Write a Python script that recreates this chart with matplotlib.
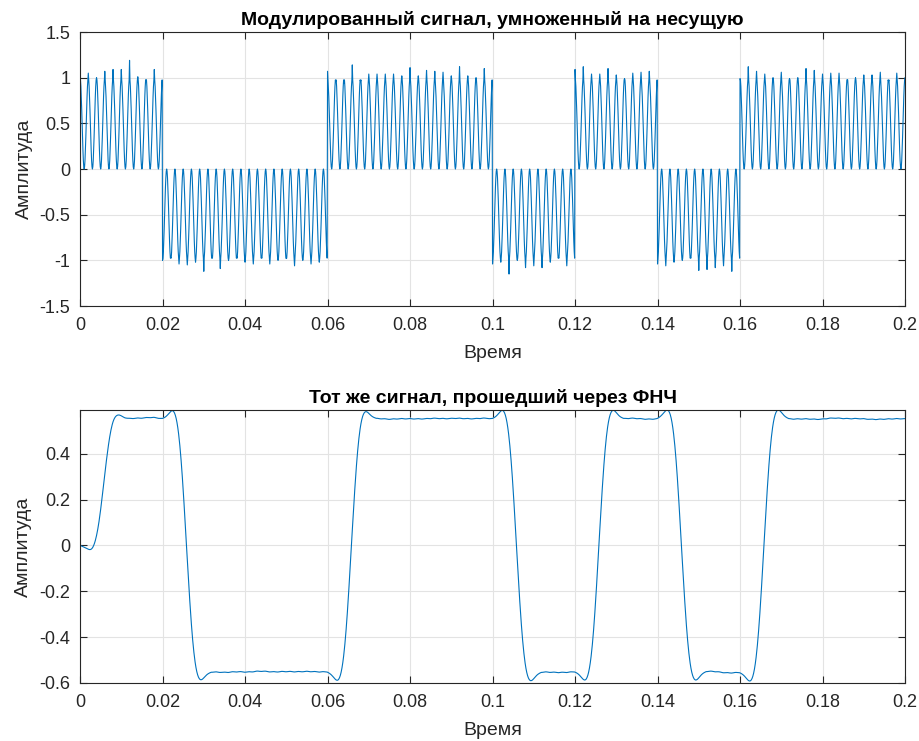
import numpy as np
import matplotlib
matplotlib.use("Agg")
import matplotlib.pyplot as plt
from matplotlib.ticker import FuncFormatter, MultipleLocator

# --- signal parameters -------------------------------------------------------
fs = 10000.0            # sampling rate, Hz
t_end = 0.2             # duration, s
bit_duration = 0.02     # s
carrier_freq = 250.0    # Hz
bits = [1, -1, -1, 1, 1, -1, 1, -1, 1, 1]

# measured peak magnitude of every carrier half-period (one per 2 ms, k = 0..100)
peak_mag = [
    1.09, 1.05, 1.00, 1.07, 1.09, 1.09, 1.19, 1.01, 0.98, 1.09,
    1.00, 0.97, 1.04, 1.05, 1.02, 1.12, 0.95, 1.09, 1.00, 0.96,
    1.02, 1.04, 0.97, 1.04, 1.00, 0.98, 1.06, 1.00, 1.04, 1.02,
    1.07, 0.96, 0.94, 1.14, 0.96, 1.04, 1.04, 1.04, 1.04, 1.02,
    1.11, 1.02, 1.08, 1.07, 1.06, 1.02, 1.12, 1.02, 1.00, 1.10,
    1.04, 1.02, 1.15, 1.00, 1.08, 1.06, 1.08, 1.02, 0.97, 1.06,
    1.09, 1.12, 1.04, 1.04, 1.10, 1.03, 0.99, 1.05, 1.06, 1.07,
    1.04, 1.06, 1.02, 1.00, 0.97, 1.11, 1.10, 1.08, 1.06, 1.12,
    0.99, 1.12, 1.07, 1.04, 1.00, 1.06, 0.99, 1.00, 1.10, 1.08,
    1.04, 1.05, 1.05, 0.98, 1.00, 1.03, 1.03, 1.06, 0.96, 1.05,
    1.00,
]

# low-pass filter parameters
lpf_cutoff = 150.0      # Hz
lpf_taps = 119
lpf_kaiser_beta = 3.8
lpf_gain = 1.1

# --- build the demodulated (carrier-multiplied) signal ------------------------
n = int(round(t_end * fs)) + 1
t = np.arange(n) / fs
bit_idx = np.clip((np.arange(n) // int(round(bit_duration * fs))), 0, len(bits) - 1)
b = np.asarray(bits, dtype=float)[bit_idx]
carrier = np.cos(2 * np.pi * carrier_freq * t)
mixed = b * carrier ** 2

samples_per_peak = int(round(fs / (2 * carrier_freq)))
for k, m in enumerate(peak_mag):
    i = k * samples_per_peak
    if i < n:
        mixed[i] = b[i] * m

# --- low-pass filtering (windowed-sinc FIR, zero initial state) ---------------
m_idx = np.arange(lpf_taps) - (lpf_taps - 1) / 2
h = np.sinc(2 * lpf_cutoff / fs * m_idx) * np.kaiser(lpf_taps, lpf_kaiser_beta)
h = h / h.sum() * lpf_gain
filtered = np.convolve(mixed, h)[:n]

# --- plotting -----------------------------------------------------------------
plt.rcParams["font.family"] = ["Liberation Sans", "DejaVu Sans"]
plt.rcParams["axes.unicode_minus"] = False

line_color = "#0072BD"
axis_color = "#262626"
grid_color = "#e3e3e3"

fig = plt.figure(figsize=(9.19, 7.41), dpi=100)
ax1 = fig.add_axes([0.0871, 0.5870, 0.8977, 0.3698])
ax2 = fig.add_axes([0.0871, 0.0783, 0.8977, 0.3684])

fmt = FuncFormatter(lambda v, p: f"{v:g}")


def style(ax):
    ax.grid(True, color=grid_color, linewidth=0.8)
    ax.set_axisbelow(True)
    ax.tick_params(direction="in", top=True, right=True, length=5,
                   width=0.8, colors=axis_color, labelsize=13)
    ax.tick_params(axis="x", pad=8)
    ax.tick_params(axis="y", pad=7)
    for s in ax.spines.values():
        s.set_color(axis_color)
        s.set_linewidth(0.8)
    ax.xaxis.set_major_locator(MultipleLocator(0.02))
    ax.xaxis.set_major_formatter(fmt)
    ax.yaxis.set_major_formatter(fmt)
    ax.set_xlim(0, t_end)
    ax.set_xlabel("Время", fontsize=14, color=axis_color, labelpad=8)
    ax.set_ylabel("Амплитуда", fontsize=14, color=axis_color, labelpad=5)


ax1.plot(t, mixed, color=line_color, linewidth=0.8)
ax1.set_ylim(-1.5, 1.5)
ax1.yaxis.set_major_locator(MultipleLocator(0.5))
style(ax1)
ax1.set_title("Модулированный сигнал, умноженный на несущую",
              fontsize=14, fontweight="bold", pad=5)

ax2.plot(t, filtered, color=line_color, linewidth=0.8)
ax2.set_ylim(min(filtered.min(), -0.6), filtered.max())
ax2.yaxis.set_major_locator(MultipleLocator(0.2))
style(ax2)
ax2.set_title("Тот же сигнал, прошедший через ФНЧ",
              fontsize=14, fontweight="bold", pad=5)

fig.savefig("out.png", dpi=100)
